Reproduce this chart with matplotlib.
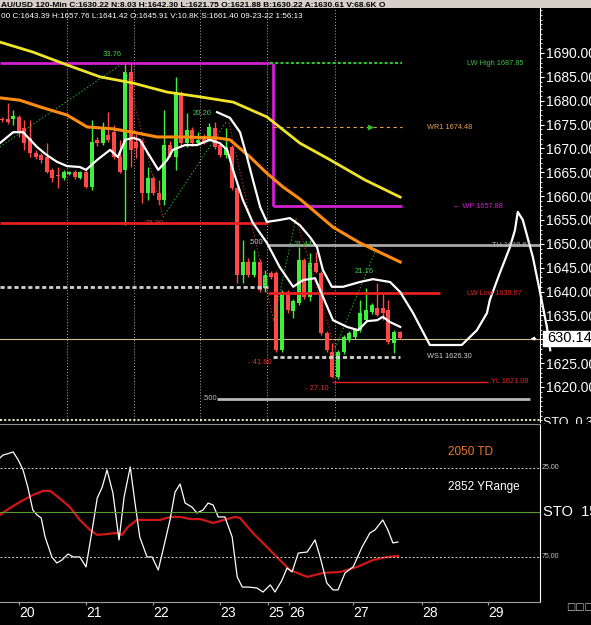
import numpy as np
import matplotlib
matplotlib.use("Agg")
import matplotlib.pyplot as plt
from matplotlib.patches import Rectangle
from matplotlib.ticker import FuncFormatter, MultipleLocator
from matplotlib.transforms import Bbox, TransformedBbox

plt.rcParams["font.family"] = ["Liberation Sans", "DejaVu Sans"]

# 120-min candles, bar index 0 = first bar on screen
opens = [1676.2, 1676.2, 1676.1, 1676.6, 1674.3, 1672.2, 1669.0, 1668.6, 1668.2, 1665.5,
         1664.5, 1663.8, 1664.7, 1665.1, 1663.8, 1665.1, 1661.9, 1671.8, 1671.1, 1672.8,
         1673.4, 1668.2, 1665.5, 1686.0, 1671.3, 1671.3, 1660.7, 1663.8, 1660.7, 1659.2,
         1670.7, 1668.2, 1681.6, 1671.1, 1673.9, 1671.1, 1672.2, 1671.8, 1674.3, 1670.7,
         1668.6, 1670.3, 1661.7, 1643.5, 1646.2, 1643.5, 1646.2, 1640.7, 1643.9, 1643.9,
         1627.7, 1639.9, 1636.0, 1637.6, 1646.6, 1638.9, 1646.0, 1643.9, 1631.3, 1627.3,
         1622.1, 1627.3, 1629.8, 1630.5, 1631.9, 1634.0, 1635.7, 1636.6, 1636.6, 1636.1,
         1629.2, 1631.5]
highs = [1676.6, 1679.5, 1678.0, 1677.0, 1676.0, 1676.0, 1669.6, 1669.0, 1671.1, 1666.0,
         1666.1, 1665.5, 1665.2, 1665.4, 1665.3, 1665.4, 1676.0, 1672.3, 1675.5, 1677.6,
         1675.0, 1671.8, 1688.1, 1688.0, 1673.0, 1672.0, 1666.1, 1664.2, 1663.4, 1678.1,
         1671.5, 1685.0, 1682.0, 1677.4, 1674.5, 1673.5, 1673.0, 1675.3, 1675.5, 1671.2,
         1674.3, 1670.8, 1662.0, 1650.8, 1647.0, 1648.7, 1646.8, 1644.5, 1644.4, 1644.3,
         1640.3, 1640.4, 1638.4, 1649.3, 1647.0, 1648.1, 1648.3, 1644.3, 1631.7, 1629.2,
         1627.7, 1630.9, 1631.7, 1632.4, 1638.2, 1640.7, 1637.6, 1641.8, 1639.7, 1638.2,
         1631.9, 1631.8]
lows = [1675.6, 1675.2, 1675.0, 1672.4, 1669.7, 1668.2, 1667.7, 1667.0, 1664.9, 1663.0,
        1661.7, 1663.4, 1664.5, 1663.6, 1663.5, 1661.7, 1661.3, 1670.6, 1670.8, 1671.4,
        1667.8, 1664.9, 1654.0, 1666.1, 1668.0, 1658.6, 1659.2, 1660.2, 1658.2, 1658.2,
        1668.2, 1665.5, 1670.5, 1670.3, 1670.6, 1670.7, 1670.9, 1671.5, 1669.9, 1668.2,
        1668.0, 1661.3, 1641.8, 1641.8, 1643.0, 1643.0, 1639.9, 1640.0, 1642.6, 1627.3,
        1627.3, 1635.6, 1634.5, 1637.2, 1638.5, 1638.0, 1643.8, 1630.9, 1627.3, 1621.8,
        1621.7, 1626.9, 1629.4, 1630.1, 1631.5, 1633.7, 1635.3, 1634.8, 1634.0, 1629.0,
        1627.1, 1630.0]
closes = [1675.9, 1675.5, 1676.7, 1673.4, 1671.2, 1669.0, 1668.2, 1667.6, 1665.1, 1663.8,
          1664.2, 1665.1, 1664.9, 1664.0, 1665.1, 1661.9, 1671.3, 1671.1, 1674.3, 1671.8,
          1668.2, 1665.1, 1686.0, 1669.7, 1670.1, 1660.7, 1663.8, 1660.7, 1659.2, 1670.7,
          1668.6, 1681.8, 1671.1, 1673.9, 1671.1, 1671.8, 1671.3, 1674.5, 1670.3, 1668.6,
          1670.3, 1661.7, 1643.5, 1646.2, 1643.5, 1646.2, 1640.3, 1643.5, 1643.0, 1627.7,
          1639.9, 1636.1, 1638.0, 1646.6, 1638.9, 1646.0, 1644.1, 1631.3, 1627.7, 1622.1,
          1627.3, 1630.5, 1631.3, 1632.0, 1635.5, 1636.1, 1637.2, 1635.1, 1635.5, 1629.4,
          1631.5, 1630.3]

# moving averages (bar index, price)
yellow_x = [-0.4, 5.5, 11.6, 17.5, 23.4, 29.5, 35.4, 41.3, 47.3, 53.2, 58.6, 64.8, 71.1]
yellow_y = [1692.3, 1690.2, 1687.5, 1685.0, 1683.7, 1681.8, 1680.8, 1679.7, 1676.6, 1671.1,
            1667.6, 1663.4, 1659.8]
orange_x = [-0.4, 3.2, 6.8, 11.6, 15.2, 19.8, 23.4, 27.7, 32.3, 38.4, 40.7, 44.3, 47.3,
            50.2, 53.2, 59.1, 63.9, 71.1]
orange_y = [1680.6, 1680.1, 1678.7, 1677.0, 1674.5, 1674.1, 1673.4, 1672.4, 1672.4, 1672.2,
            1671.8, 1668.2, 1664.8, 1661.9, 1659.4, 1653.5, 1650.2, 1646.2]
fast_x = [-0.4, 2.0, 3.75, 6.25, 8.0, 9.8, 11.6, 13.9, 15.0, 17.0, 19.3, 20.7, 22.0, 23.4,
          24.6, 27.9, 29.5, 30.5, 32.7, 34.8, 37.1, 38.9, 40.2, 41.25, 43.0, 44.8, 47.3,
          49.6, 52.0, 53.75, 55.9, 56.8, 59.1, 61.6, 63.6, 65.2, 67.0, 68.0, 69.3, 71.1]
fast_y = [1671.1, 1673.4, 1673.4, 1670.3, 1668.6, 1667.2, 1666.3, 1666.1, 1665.5, 1667.6,
          1669.7, 1668.2, 1671.8, 1672.2, 1671.8, 1665.5, 1667.6, 1669.7, 1670.7, 1670.7,
          1671.8, 1671.1, 1669.7, 1665.5, 1659.2, 1654.4, 1650.2, 1645.1, 1641.0, 1642.4,
          1642.8, 1640.3, 1634.0, 1632.6, 1631.9, 1633.8, 1634.0, 1634.7, 1633.6, 1632.6]
# cycle line incl. projection
cycle_x = [38.4, 40.7, 42.5, 43.75, 44.8, 46.1, 47.3, 49.6, 51.4, 53.2, 55.0, 56.25, 57.3,
           58.9, 60.9, 63.9, 66.25, 69.3, 71.1, 73.4, 76.4, 82.1, 84.8, 86.6, 87.1, 88.9,
           90.7, 91.6, 92.1, 93.0, 94.8, 96.1, 97.3, 97.9]
cycle_y = [1677.6, 1676.4, 1673.4, 1668.2, 1663.4, 1657.7, 1654.6, 1655.0, 1655.4, 1653.9,
           1651.4, 1649.3, 1644.5, 1641.0, 1641.0, 1642.0, 1642.6, 1642.0, 1639.9, 1635.5,
           1628.8, 1628.8, 1631.9, 1635.5, 1638.2, 1643.9, 1649.3, 1652.9, 1656.7, 1655.0,
           1647.2, 1639.7, 1632.6, 1627.7]

# stochastic (lower pane)
stok_x = [-0.4, 0.2, 0.9, 2.0, 2.9, 3.75, 4.6, 5.5, 6.25, 7.0, 7.7, 8.9, 9.8, 10.7, 11.8,
          12.7, 13.9, 15.0, 16.1, 17.0, 17.9, 18.75, 19.8, 20.9, 21.8, 22.9, 23.75, 24.6,
          25.9, 26.8, 27.9, 28.75, 30.0, 30.9, 31.8, 32.7, 33.9, 34.8, 35.9, 36.8, 37.7,
          38.6, 39.8, 41.1, 42.0, 42.9, 43.9, 45.5, 46.6, 47.9, 48.75, 50.0, 50.9, 51.8,
          52.9, 54.5, 55.9, 56.8, 58.0, 59.1, 60.0, 61.25, 62.7, 64.3, 65.7, 66.6, 68.0,
          68.9, 69.8, 70.7]
stok_y = [19.4, 17.7, 17.1, 16.0, 20.5, 26.1, 35.7, 48.6, 51.4, 53.1, 63.8, 75.0, 78.4,
          76.7, 73.3, 75.0, 75.0, 80.6, 59.8, 41.9, 35.7, 26.1, 39.0, 65.4, 41.3, 24.4,
          44.7, 63.8, 75.0, 75.0, 82.3, 71.1, 54.2, 38.5, 34.0, 44.7, 46.9, 50.3, 48.6,
          44.7, 45.8, 52.5, 52.5, 63.8, 86.2, 91.9, 91.9, 92.4, 94.7, 90.7, 94.7, 88.0,
          81.2, 83.4, 72.8, 72.2, 65.4, 75.0, 89.6, 93.5, 93.5, 84.0, 80.6, 69.4, 61.5,
          59.8, 54.2, 59.8, 67.1, 66.6]
stod_x = [-0.4, 1.4, 3.2, 5.5, 7.3, 8.6, 10.0, 12.1, 13.9, 15.7, 17.0, 18.75, 20.5, 21.4,
          22.5, 24.1, 26.4, 28.2, 30.0, 31.8, 33.6, 35.4, 37.7, 40.2, 41.6, 42.5, 44.8,
          47.3, 49.6, 51.4, 54.5, 57.3, 60.4, 63.4, 66.25, 68.75, 70.7]
stod_y = [51.4, 47.5, 44.1, 40.2, 37.9, 37.9, 41.3, 46.9, 54.2, 59.8, 62.6, 62.1, 61.5,
          62.6, 58.1, 54.2, 54.2, 54.2, 52.5, 52.5, 53.7, 53.7, 55.9, 53.7, 52.5, 53.1,
          61.5, 69.4, 76.7, 82.3, 86.2, 84.0, 83.4, 80.6, 76.7, 75.0, 74.4]

# swing legs (start index, start price, end index, end price, label)
swing_up = [(-0.4, 1670.3, 21.4, 1687.7, "33.76"), (28.75, 1655.6, 40.0, 1675.5, "20.20"),
            (48.5, 1633.9, 52.5, 1655.3, "21.44"), (59.5, 1628.2, 67.0, 1649.4, "21.16")]
swing_dn = [(21.8, 1688.1, 28.75, 1655.6, "32.30"), (40.5, 1675.5, 48.5, 1633.9, "- 41.60"),
            (52.5, 1655.3, 59.5, 1628.2, "- 27.10")]
swing_lbl_x = {"33.76": 18.0, "20.20": 34.1, "21.44": 52.0, "21.16": 63.0,
               "32.30": 25.5, "- 41.60": 43.9, "- 27.10": 54.1}
swing_lbl_y = {"33.76": 1689.6, "20.20": 1677.4, "21.44": 1649.8, "21.16": 1644.1,
               "32.30": 1654.2, "- 41.60": 1625.2, "- 27.10": 1619.6}

day_pos = [3.0, 15.0, 27.0, 38.9, 47.5, 51.25, 62.7, 75.0, 86.8]
day_lbl = ["20", "21", "22", "23", "25", "26", "27", "28", "29"]
session_pos = [11.6, 23.6, 35.4, 47.3, 59.5]

last_price = 1630.14
lw_high, wr1, wp, th, lw_low, ws1, yl = 1687.85, 1674.48, 1657.88, 1649.67, 1639.67, 1626.30, 1621.08

GREEN = "#3ef03e"
RED = "#ff4848"
MAG = "#d020d0"
NARROW = ["Liberation Sans Narrow", "Liberation Sans", "DejaVu Sans"]

fig = plt.figure(figsize=(5.91, 6.25), dpi=100, facecolor="black")
ax = fig.add_axes([0, 1 - 422 / 625, 540 / 591, 414 / 625], facecolor="black")
lo = fig.add_axes([0, 1 - 602 / 625, 540 / 591, 178 / 625], facecolor="black", sharex=ax)

ax.set_xlim(-0.36, 96.07)
ax.set_ylim(1612.66, 1699.43)

# session separators
for s in session_pos:
    ax.axvline(s, color="#b0b0b0", lw=0.7, ls=(0, (1, 2)), zorder=1)

# candles
for i in range(len(opens)):
    o, h, l, c = opens[i], highs[i], lows[i], closes[i]
    col = GREEN if c >= o else RED
    ax.vlines(i, l, h, color=col, lw=1.0, zorder=2)
    ax.bar(i, max(abs(c - o), 0.3), bottom=min(o, c), width=0.72, color=col, zorder=2)

# levels
ax.hlines(lw_high, -0.4, 47.9, color=MAG, lw=2, zorder=2)
ax.vlines(48.4, wp, lw_high, color=MAG, lw=2, zorder=2)
ax.hlines(wp, 48.4, 71.4, color=MAG, lw=2, zorder=2)
ax.hlines(lw_high, 47.9, 71.4, color="#30c030", lw=1.5, ls=(0, (1.5, 1)), zorder=2)
ax.hlines(wr1, 48.4, 71.4, color="#e8a050", lw=0.8, ls=(0, (3, 3)), zorder=2)
ax.plot([65.7], [wr1], marker=">", ms=3, color="#30c030", zorder=3)
ax.hlines(1654.4, -0.4, 47.5, color="#e82020", lw=2, zorder=2)
ax.hlines(th, 47.5, 96.1, color="#a8a8a8", lw=2, zorder=2)
ax.hlines(1641.0, -0.4, 47.5, color="#d0d0d0", lw=2, ls=(0, (1.5, 1)), zorder=2)
ax.hlines(lw_low, 47.5, 78.2, color="#e82020", lw=2, zorder=2)
ax.axhline(last_price, color="#c8c088", lw=0.8, zorder=1)
ax.hlines(ws1, 48.4, 71.1, color="#d0d0d0", lw=2, ls=(0, (1.5, 1)), zorder=2)
ax.hlines(yl, 58.9, 86.8, color="#e82020", lw=1, zorder=2)
ax.hlines(1617.5, 38.4, 94.3, color="#b8b8b8", lw=2, zorder=2)
ax.axhline(1613.1, color="#e0e0c0", lw=1.5, ls=(0, (1, 1)), zorder=2)

# swings
for x0, y0, x1, y1, t in swing_up:
    ax.plot([x0, x1], [y0, y1], color="#30b030", lw=0.7, ls=(0, (1.5, 2)), zorder=2)
    ax.text(swing_lbl_x[t], swing_lbl_y[t], t, color="#40d040", fontsize=5.5,
            va="center", zorder=4)
for x0, y0, x1, y1, t in swing_dn:
    ax.plot([x0, x1], [y0, y1], color="#c03030", lw=0.7, ls=(0, (1.5, 2)), zorder=2)
    ax.text(swing_lbl_x[t], swing_lbl_y[t], t, color="#e03030", fontsize=5.5,
            va="center", zorder=4)
ax.text(43.9, 1650.2, ".500", color="#c0c0c0", fontsize=5.5, va="center")
ax.text(35.7, 1617.5, ".500", color="#c0c0c0", fontsize=5.5, va="center")

# moving averages
ax.plot(yellow_x, yellow_y, color="#f0e428", lw=2, zorder=3)
ax.plot(orange_x, orange_y, color="#ff8c10", lw=2.2, zorder=3)
ax.plot(fast_x, fast_y, color="white", lw=1.6, zorder=3)
ax.plot(cycle_x, cycle_y, color="white", lw=1.6, zorder=3, clip_on=False)

# level labels
lab = dict(fontsize=5.3, va="center", zorder=4)
ax.text(83.0, lw_high, "LW High %.2f" % lw_high, color="#40c040", **lab)
ax.text(75.9, wr1, "WR1 %.2f" % wr1, color="#e8a050", **lab)
ax.text(80.5, wp, "\u2190 WP %.2f" % wp, color=MAG, **lab)
ax.text(87.5, th, "TH %.2f" % th, color="#b0b0b0", **lab)
ax.text(83.0, lw_low, "LW Low %.2f" % lw_low, color="#e82020", **lab)
ax.text(75.9, ws1, "WS1 %.2f" % ws1, color="#d0d0d0", **lab)
ax.text(87.3, yl, "YL %.2f" % yl, color="#e82020", **lab)

# right price scale (the 1630 label sits under the last-price box)
for sp in ["top", "left", "bottom"]:
    ax.spines[sp].set_visible(False)
ax.spines["right"].set_color("white")
ax.yaxis.tick_right()
ax.set_yticks(np.arange(1620, 1691, 5))
ax.yaxis.set_major_formatter(FuncFormatter(lambda v, p: "" if abs(v - 1630) < 0.1 else "%.2f" % v))
ax.yaxis.set_minor_locator(MultipleLocator(1))
ax.tick_params(axis="y", which="major", colors="white", labelsize=10, length=3, pad=1.5)
ax.tick_params(axis="y", which="minor", colors="white", length=1.5)
ax.tick_params(axis="x", bottom=False, labelbottom=False)
ax.annotate("", xy=(93.9, last_price), xytext=(95.8, last_price),
            arrowprops=dict(arrowstyle="-|>", color="white", lw=0.8, mutation_scale=5),
            annotation_clip=False)
fig.add_artist(Rectangle((543 / 591, 1 - 346 / 625), 48 / 591, 15 / 625,
                         transform=fig.transFigure, fc="white", ec="white", zorder=5))
fig.text(547 / 591, 1 - 338.5 / 625, "630.14", color="black", fontsize=10.5,
         va="center", zorder=6)
sto_cut = fig.text(543 / 591, 1 - 417 / 625, "STO  0.3", color="white", fontsize=9, va="top")
sto_cut.set_clip_box(TransformedBbox(Bbox([[543 / 591, 1 - 423.5 / 625], [1, 1 - 412 / 625]]),
                                     fig.transFigure))
sto_cut.set_clip_on(True)

# lower pane
lo.set_ylim(100.3, 0.28)
lo.plot(stod_x, stod_y, color="#d01818", lw=1.6)
lo.plot(stok_x, stok_y, color="white", lw=0.9)
lo.axhline(25, color="#d0d0d0", lw=0.7, ls=(0, (2, 2)))
lo.axhline(75, color="#d0d0d0", lw=0.7, ls=(0, (2, 2)))
lo.axhline(50, color="#5a9a30", lw=0.8)
yt = lo.get_yaxis_transform()
lo.text(1.003, 25, "25.00", transform=yt, color="#c8c8c8", fontsize=5, va="center")
lo.text(1.003, 75, "75.00", transform=yt, color="#c8c8c8", fontsize=5, va="center")
lo.text(1.006, 50, "STO  15", transform=yt, color="white", fontsize=10.5, va="center")
lo.text(79.6, 16.0, "2050 TD", color="#e8782a", fontsize=8.5, va="center")
lo.text(79.6, 35.7, "2852 YRange", color="white", fontsize=8.5, va="center")
lo.spines["left"].set_visible(False)
lo.spines["right"].set_color("white")
lo.spines["top"].set_color("#909090")
lo.spines["bottom"].set_color("#a0a0a0")
lo.set_yticks([])
lo.set_xticks(day_pos)
lo.set_xticklabels(day_lbl)
lo.tick_params(axis="x", colors="#a0a0a0", labelcolor="white", labelsize=10, length=2, pad=1)
for t in lo.get_xticklabels():
    t.set_ha("left")
fig.text(566 / 591, 1 - 607 / 625, "\u25a1\u25a1\u25a1", color="#c0c0c0", fontsize=7,
         va="center", family="DejaVu Sans")

# header
fig.add_artist(Rectangle((0, 1 - 8 / 625), 1, 8 / 625, transform=fig.transFigure,
                         fc="#d4d0c8", ec="none", zorder=5))
fig.text(0.001, 1 - 7 / 625, "AU/USD 120-Min C:1630.22 N:8.03 H:1642.30 L:1621.75 "
         "O:1621.88 B:1630.22 A:1630.61 V:68.6K O", color="black", fontsize=6.0,
         weight="bold", va="baseline", zorder=6, family=NARROW)
fig.text(0.001, 1 - 18 / 625, "00 C:1643.39 H:1657.76 L:1641.42 O:1645.91 V:10.8K "
         "S:1661.40 09-23-22 1:56:13", color="white", fontsize=5.9, va="baseline",
         family=NARROW)

fig.savefig("out.png", dpi=100, facecolor="black")
